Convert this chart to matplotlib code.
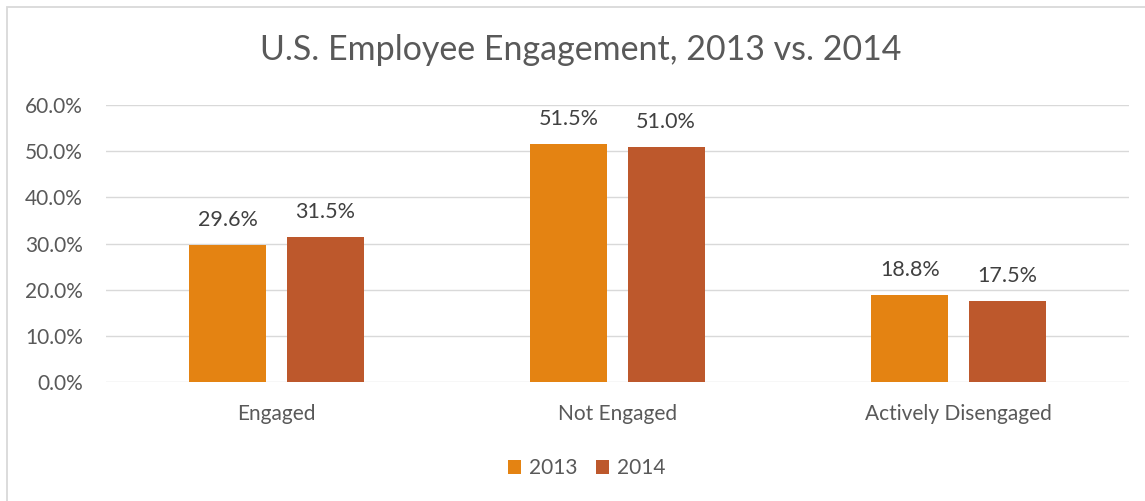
import matplotlib
matplotlib.use('Agg')
from matplotlib import pyplot as plt
from matplotlib.patches import Rectangle
from matplotlib.ticker import PercentFormatter
import numpy as np

categories = ["Engaged", "Not Engaged", "Actively Disengaged"]
years = ["2013", "2014"]
values_2013 = [0.296, 0.515, 0.188]
values_2014 = [0.315, 0.510, 0.175]
yticks = [0.0, 0.1, 0.2, 0.3, 0.4, 0.5, 0.6]

text_col = "#595959"
label_col = "#404040"
plt.rcParams['font.family'] = ['Lato', 'DejaVu Sans']

fig = plt.figure(figsize=(11.45, 5.01), dpi=100)
ax = fig.add_axes([106 / 1145, 119 / 501, 1023 / 1145, 277 / 501])

# outer frame of the chart area (only top and left edges show)
top = (501 - 6.5) / 501
fig.patches.append(Rectangle((7 / 1145, -0.5), 1.5, top + 0.5, transform=fig.transFigure,
                             fill=False, edgecolor="#d9d9d9", linewidth=1.3))

x = np.arange(len(categories))
w = 0.226
off = 0.1425
b1 = ax.bar(x - off, values_2013, w, color="#E48312", label=years[0], zorder=3)
b2 = ax.bar(x + off, values_2014, w, color="#BD582C", label=years[1], zorder=3)

for bars, vals in ((b1, values_2013), (b2, values_2014)):
    for r, v in zip(bars, vals):
        ax.text(r.get_x() + r.get_width() / 2, v + 0.054, f"{v*100:.1f}%",
                ha="center", va="center", fontsize=15.5, color=label_col)

ax.set_xlim(-0.5, 2.5)
ax.set_ylim(0, 0.6)
ax.set_yticks(yticks)
ax.yaxis.set_major_formatter(PercentFormatter(1.0, decimals=1))
ax.set_xticks(x)
ax.set_xticklabels(categories)
ax.tick_params(axis="both", length=0, labelsize=15, colors=text_col)
ax.tick_params(axis="y", pad=16.5)
ax.tick_params(axis="x", pad=15.5)
ax.grid(axis="y", color="#d9d9d9", linewidth=1, zorder=0)
for s in ax.spines.values():
    s.set_visible(False)

fig.text(0.507, 0.9, "U.S. Employee Engagement, 2013 vs. 2014", ha="center", va="center",
         fontsize=24.5, color=text_col)

ax.legend(loc="center", bbox_to_anchor=(0.47, -0.312), ncol=2, frameon=False,
          fontsize=15, handlelength=0.6, handleheight=0.6, columnspacing=0.9,
          handletextpad=0.4, labelcolor=text_col)

plt.savefig("out.png", dpi=100)
plt.close()
